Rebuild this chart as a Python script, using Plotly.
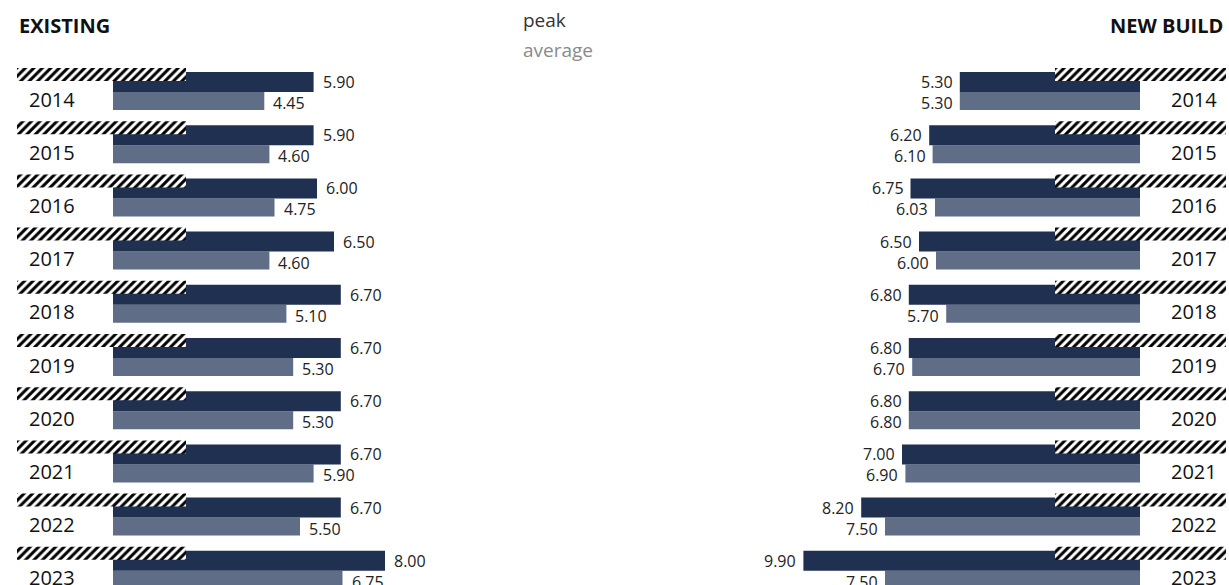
import plotly.graph_objects as go

# ---------------- data ----------------
years = ["2014", "2015", "2016", "2017", "2018", "2019", "2020", "2021", "2022", "2023"]
existing_peak = [5.90, 5.90, 6.00, 6.50, 6.70, 6.70, 6.70, 6.70, 6.70, 8.00]
existing_avg = [4.45, 4.60, 4.75, 4.60, 5.10, 5.30, 5.30, 5.90, 5.50, 6.75]
newbuild_peak = [5.30, 6.20, 6.75, 6.50, 6.80, 6.80, 6.80, 7.00, 8.20, 9.90]
newbuild_avg = [5.30, 6.10, 6.03, 6.00, 5.70, 6.70, 6.80, 6.90, 7.50, 7.50]

# ---------------- layout constants (pixels) ----------------
W, H = 1229, 585
PX_UNIT = 34.0          # pixels per value unit
ROW = 53.2              # pixels per year row
ROW0 = 92               # pixel y of first row centre (peak/avg boundary)
LEFT_ZERO = 113         # pixel x of zero, left panel
RIGHT_ZERO = 1140       # pixel x of zero, right panel (bars grow leftwards)

PEAK_C = "#1f3050"
AVG_C = "#5f6e86"
FONT = "Open Sans"

idx = list(range(len(years)))

def u(px):
    return px / ROW

fig = go.Figure()

# hatch decoration geometry
hatch_base_l = (17 - LEFT_ZERO) / PX_UNIT
hatch_len_l = (186 - 17) / PX_UNIT
hatch_base_r = (RIGHT_ZERO - 1226) / PX_UNIT
hatch_len_r = (1226 - 1055) / PX_UNIT

for xa, peak, avg, hb, hl in [("x", existing_peak, existing_avg, hatch_base_l, hatch_len_l),
                              ("x2", newbuild_peak, newbuild_avg, hatch_base_r, hatch_len_r)]:
    fig.add_trace(go.Bar(x=avg, y=idx, orientation="h", xaxis=xa, yaxis="y",
                         offset=0, width=u(18), marker=dict(color=AVG_C, line_width=0),
                         hoverinfo="x", showlegend=False))
    fig.add_trace(go.Bar(x=peak, y=idx, orientation="h", xaxis=xa, yaxis="y",
                         offset=-u(20), width=u(20), marker=dict(color=PEAK_C, line_width=0),
                         hoverinfo="x", showlegend=False))
    fig.add_trace(go.Bar(x=[hl] * len(idx), base=[hb] * len(idx), y=idx, orientation="h",
                         xaxis=xa, yaxis="y", offset=-u(24), width=u(13),
                         marker=dict(color="white", line_width=0,
                                     pattern=dict(shape="/", fgcolor="black", bgcolor="white",
                                                  size=6, solidity=0.5, fillmode="replace",
                                                  fgopacity=1)),
                         hoverinfo="skip", showlegend=False))

ann = []
val_font = dict(family=FONT, size=16, color="#222")
year_font = dict(family=FONT, size=20, color="#111")
for i, y in enumerate(years):
    # left panel labels
    ann.append(dict(x=existing_peak[i], y=i, xref="x", yref="y", text=f"{existing_peak[i]:.2f}",
                    xanchor="left", yanchor="middle", xshift=7, yshift=10, showarrow=False, font=val_font))
    ann.append(dict(x=existing_avg[i], y=i, xref="x", yref="y", text=f"{existing_avg[i]:.2f}",
                    xanchor="left", yanchor="middle", xshift=7, yshift=-11, showarrow=False, font=val_font))
    ann.append(dict(x=27 / W, y=i, xref="paper", yref="y", text=y, xanchor="left", yanchor="middle",
                    yshift=-7, showarrow=False, font=year_font))
    # right panel labels
    ann.append(dict(x=newbuild_peak[i], y=i, xref="x2", yref="y", text=f"{newbuild_peak[i]:.2f}",
                    xanchor="right", yanchor="middle", xshift=-5, yshift=10, showarrow=False, font=val_font))
    ann.append(dict(x=newbuild_avg[i], y=i, xref="x2", yref="y", text=f"{newbuild_avg[i]:.2f}",
                    xanchor="right", yanchor="middle", xshift=-5, yshift=-11, showarrow=False, font=val_font))
    ann.append(dict(x=1219 / W, y=i, xref="paper", yref="y", text=y, xanchor="right", yanchor="middle",
                    yshift=-7, showarrow=False, font=year_font))

# titles and legend text
ann.append(dict(x=17 / W, y=1 - 26 / H, xref="paper", yref="paper", text="<b>EXISTING</b>",
                xanchor="left", yanchor="middle", showarrow=False,
                font=dict(family=FONT, size=20, color="#111")))
ann.append(dict(x=1225 / W, y=1 - 26 / H, xref="paper", yref="paper", text="<b>NEW BUILD</b>",
                xanchor="right", yanchor="middle", showarrow=False,
                font=dict(family=FONT, size=20, color="#111")))
ann.append(dict(x=521 / W, y=1 - 20 / H, xref="paper", yref="paper", text="peak",
                xanchor="left", yanchor="middle", showarrow=False,
                font=dict(family=FONT, size=19, color="#333")))
ann.append(dict(x=521 / W, y=1 - 50 / H, xref="paper", yref="paper", text="average",
                xanchor="left", yanchor="middle", showarrow=False,
                font=dict(family=FONT, size=19, color="#8a8a8a")))

half = 0.5
left_px = W * half
fig.update_layout(
    width=W, height=H,
    margin=dict(l=0, r=0, t=0, b=0),
    paper_bgcolor="white", plot_bgcolor="white",
    barmode="overlay",
    annotations=ann,
    xaxis=dict(domain=[0, half], range=[-LEFT_ZERO / PX_UNIT, (left_px - LEFT_ZERO) / PX_UNIT],
               visible=False, fixedrange=True),
    xaxis2=dict(domain=[half, 1], range=[(RIGHT_ZERO - left_px) / PX_UNIT, (RIGHT_ZERO - W) / PX_UNIT],
                visible=False, anchor="y", fixedrange=True),
    yaxis=dict(domain=[0, 1], range=[(H - ROW0) / ROW, -ROW0 / ROW], visible=False, fixedrange=True),
    showlegend=False,
)

fig.write_html("out.html")
